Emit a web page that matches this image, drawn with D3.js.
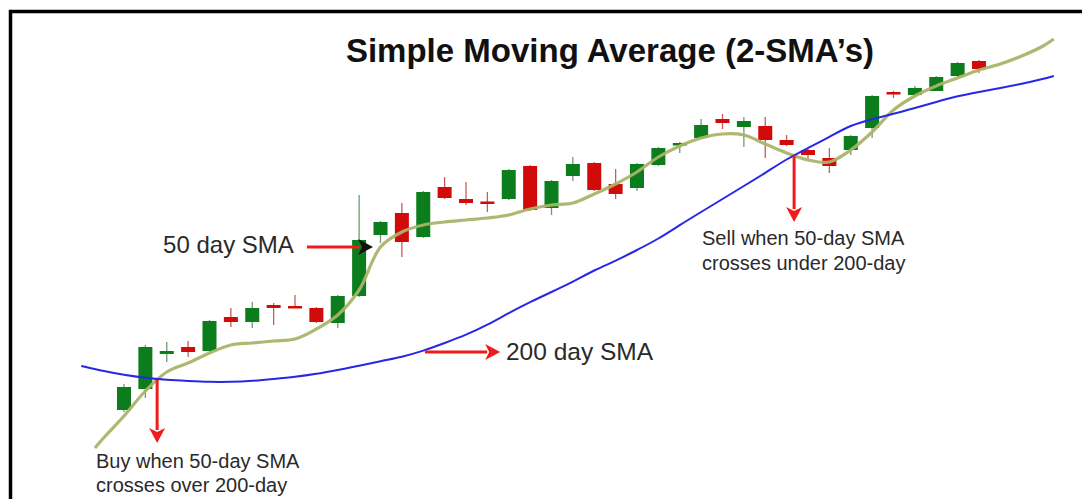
<!DOCTYPE html>
<html>
<head>
<meta charset="utf-8">
<script src="https://cdn.jsdelivr.net/npm/d3@7"></script>
<style>
  html, body { margin: 0; padding: 0; background: #fff; }
  svg { display: block; }
</style>
</head>
<body>
<svg id="chart" width="1082" height="499"></svg>
<script>
// ---------- DATA ----------
const days = d3.range(0, 41);
const opens  = [14.0,18.2,25.2,26.6,25.8,32.6,31.6,35.0,34.8,34.4,31.4,36.8,49.0,53.4,48.6,58.6,56.2,55.7,56.2,62.8,54.4,60.8,63.4,59.2,58.4,63.0,66.9,68.4,72.2,70.6,70.8,68.0,66.0,64.4,66.0,70.4,77.6,77.0,77.8,80.8,83.8];
const highs  = [19.2,27.0,27.6,27.8,32.0,34.4,35.6,35.4,37.0,34.6,37.0,57.0,51.8,55.4,57.8,60.6,59.6,57.6,62.2,63.0,60.0,64.6,63.6,62.2,63.4,66.6,67.6,72.2,73.2,72.6,72.6,69.0,66.2,66.4,69.0,77.0,77.8,78.8,80.8,83.6,84.0];
const lows   = [13.6,16.4,23.6,24.6,25.6,30.6,30.4,31.0,34.5,31.4,30.4,36.6,47.4,44.6,48.4,56.2,55.0,53.6,56.0,53.8,53.0,59.8,57.8,56.2,57.8,62.8,65.4,68.2,70.2,66.6,64.4,66.8,64.2,61.4,65.0,68.4,76.4,76.8,78.0,80.6,81.4];
const closes = [18.6,26.6,25.8,25.6,31.8,31.6,34.4,34.4,34.5,31.6,36.8,48.0,51.6,47.6,57.6,56.4,55.4,55.4,62.0,54.0,59.8,63.2,58.0,57.2,63.2,66.4,67.4,71.0,71.4,71.8,68.0,67.0,65.0,62.8,68.8,76.8,77.2,78.4,80.6,83.4,82.2];

// 50-day SMA (day, value)
const sma50Days   = [-1.36,-1,0,1,2,3,4,5,6,7,8,9,10,11,12,13,14,15,16,17,18,19,20,21,22,23,24,25,26,27,28,29,30,31,32,33,34,35,36,37,38,39,40,41,42,43,43.5];
const sma50Values = [6.4,8.2,12.8,17.8,21.6,23.4,25.4,27.0,27.4,27.8,28.2,30.2,33.0,38.0,46.6,49.6,51.0,51.6,52.0,52.4,53.0,54.2,55.0,55.4,57.2,59.2,61.6,64.6,66.8,68.4,69.2,69.0,67.2,65.4,64.0,63.6,66.0,69.6,74.0,76.8,78.8,80.4,82.0,83.2,84.8,86.8,88.2];

// 200-day SMA (day, value)
const sma200Days   = [-2,-1,0,1,2,3,4,5,6,7,8,9,10,11,12,13,14,15,16,17,18,19,20,21,22,23,24,25,26,27,28,29,30,31,32,33,34,35,36,37,38,39,40,41,42,43,43.5];
const sma200Values = [22.8,21.8,21.0,20.4,20.0,19.8,19.6,19.6,19.8,20.2,20.6,21.2,22.0,22.8,23.8,24.6,25.8,27.4,29.0,31.0,33.4,35.6,37.6,39.6,42.0,43.8,46.0,48.2,51.0,53.6,56.2,58.8,61.4,64.2,66.4,68.6,71.0,72.2,73.2,74.4,75.6,76.8,77.6,78.4,79.2,80.2,80.8];

const titleText = "Simple Moving Average (2-SMA\u2019s)";
const buyLines  = ["Buy when 50-day SMA", "crosses over 200-day"];
const sellLines = ["Sell when 50-day SMA", "crosses under 200-day"];
const label50   = "50 day SMA";
const label200  = "200 day SMA";

// ---------- SCALES ----------
const W = 1082, H = 499;
const svg = d3.select("#chart");
const x = d3.scaleLinear().domain([0, 40]).range([124, 979]);
const y = d3.scaleLinear().domain([0, 96]).range([480, 0]);

const GREEN = "#0b7d1c", RED = "#d10a0a";
const font = "'Liberation Sans', Arial, Helvetica, sans-serif";

// ---------- FRAME ----------
svg.append("path")
  .attr("d", `M10.5,${H + 5} L10.5,11.5 L${W + 5},11.5`)
  .attr("fill", "none").attr("stroke", "#000").attr("stroke-width", 3.5);

// ---------- TITLE ----------
svg.append("text")
  .attr("x", 610).attr("y", 62)
  .attr("text-anchor", "middle")
  .attr("font-family", font).attr("font-weight", "bold").attr("font-size", 33)
  .attr("fill", "#111")
  .text(titleText);

// ---------- SMA LINES ----------
const sma200 = sma200Days.map((d, i) => [d, sma200Values[i]]);
const sma50  = sma50Days.map((d, i) => [d, sma50Values[i]]);
const line50  = d3.line().x(d => x(d[0])).y(d => y(d[1])).curve(d3.curveCatmullRom.alpha(0.5));
const line200 = d3.line().x(d => x(d[0])).y(d => y(d[1])).curve(d3.curveBasis);

// ---------- CANDLES ----------
const candles = days.map((d, i) => ({ d, o: opens[i], h: highs[i], l: lows[i], c: closes[i] }));
const bodyW = 14;
const g = svg.append("g");
g.selectAll("line.wick").data(candles).join("line")
  .attr("class", "wick")
  .attr("x1", c => x(c.d)).attr("x2", c => x(c.d))
  .attr("y1", c => y(c.h)).attr("y2", c => y(c.l))
  .attr("stroke", c => c.c >= c.o ? "#6f9a73" : "#cf5a5a")
  .attr("stroke-width", 1.3);
g.selectAll("rect.body").data(candles).join("rect")
  .attr("class", "body")
  .attr("x", c => x(c.d) - bodyW / 2)
  .attr("width", bodyW)
  .attr("y", c => y(Math.max(c.o, c.c)))
  .attr("height", c => Math.max(2.5, Math.abs(y(c.o) - y(c.c))))
  .attr("fill", c => c.c >= c.o ? GREEN : RED);

svg.append("path").datum(sma50).attr("d", line50)
  .attr("fill", "none").attr("stroke", "#aab468").attr("stroke-width", 3.2)
  .attr("stroke-opacity", 0.95);
svg.append("path").datum(sma200).attr("d", line200)
  .attr("fill", "none").attr("stroke", "#2727e6").attr("stroke-width", 2);

// ---------- ANNOTATIONS ----------
const ARROW = "#f01c1c";
function arrow(x1, y1, x2, y2, headColor) {
  const len = Math.hypot(x2 - x1, y2 - y1);
  const ux = (x2 - x1) / len, uy = (y2 - y1) / len;
  const hl = 15, hw = 8;
  const bx = x2 - ux * hl, by = y2 - uy * hl;
  svg.append("line").attr("x1", x1).attr("y1", y1).attr("x2", bx + ux * 2).attr("y2", by + uy * 2)
    .attr("stroke", ARROW).attr("stroke-width", 3);
  svg.append("path")
    .attr("d", `M${x2},${y2} L${bx - uy * hw},${by + ux * hw} L${bx + ux * 4},${by + uy * 4} L${bx + uy * hw},${by - ux * hw} Z`)
    .attr("fill", headColor || ARROW);
}

// buy
arrow(x(1.55), y(20), x(1.55), y(7.4));
svg.append("text").attr("font-family", font).attr("font-size", 20).attr("fill", "#2a2a2a")
  .selectAll("tspan").data(buyLines).join("tspan")
  .attr("x", x(-1.31)).attr("y", (d, i) => y(i === 0 ? 2.4 : -2.4))
  .text(d => d);

// sell
arrow(x(31.35), y(65), x(31.35), y(51.6));
svg.append("text").attr("font-family", font).attr("font-size", 20).attr("fill", "#2a2a2a")
  .selectAll("tspan").data(sellLines).join("tspan")
  .attr("x", x(27.04)).attr("y", (d, i) => y(i === 0 ? 47 : 42))
  .text(d => d);

// 50 day
svg.append("text").attr("x", x(1.83)).attr("y", y(45.4))
  .attr("font-family", font).attr("font-size", 24).attr("fill", "#2a2a2a").text(label50);
arrow(x(8.56), y(46.6), x(11.65), y(46.6), "#111");

// 200 day
arrow(x(14.08), y(25.6), x(17.6), y(25.6));
svg.append("text").attr("x", x(17.87)).attr("y", y(24))
  .attr("font-family", font).attr("font-size", 24.5).attr("fill", "#2a2a2a").text(label200);
</script>
</body>
</html>
